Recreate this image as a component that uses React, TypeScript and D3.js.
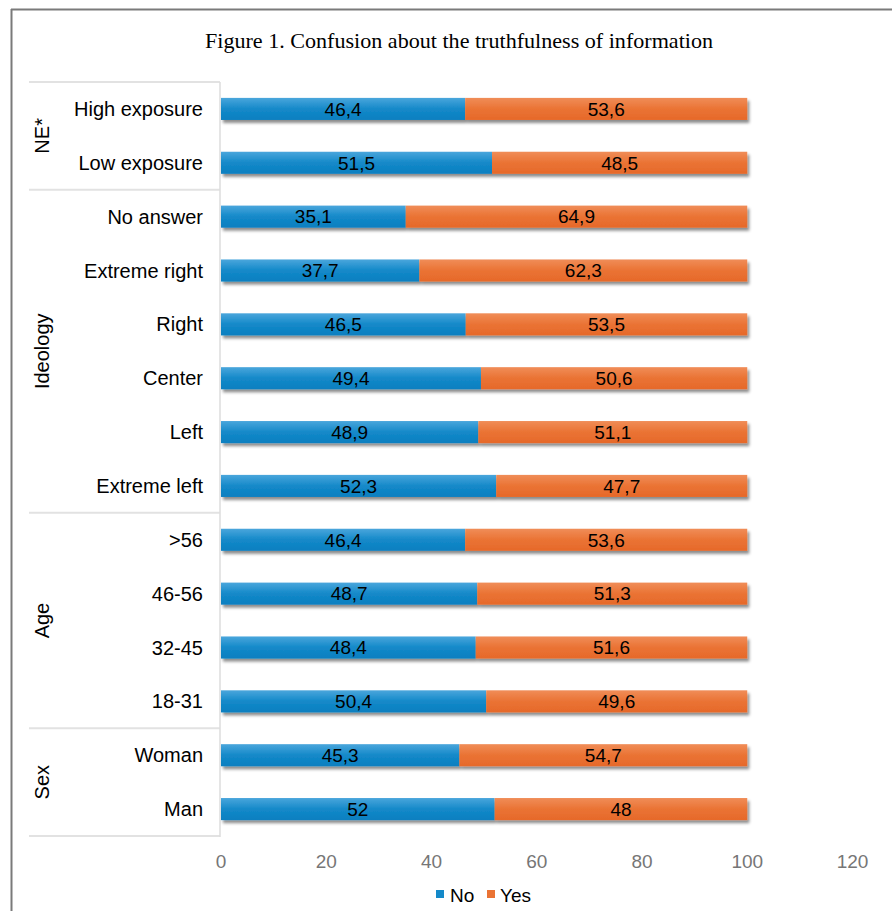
import React from "react";
import * as d3 from "d3";

const categories = [
  "High exposure", "Low exposure",
  "No answer", "Extreme right", "Right", "Center", "Left", "Extreme left",
  ">56", "46-56", "32-45", "18-31",
  "Woman", "Man",
];
const noValues = [46.4, 51.5, 35.1, 37.7, 46.5, 49.4, 48.9, 52.3, 46.4, 48.7, 48.4, 50.4, 45.3, 52];
const yesValues = [53.6, 48.5, 64.9, 62.3, 53.5, 50.6, 51.1, 47.7, 53.6, 51.3, 51.6, 49.6, 54.7, 48];
const groups = [
  { name: "NE*", start: 0, end: 1 },
  { name: "Ideology", start: 2, end: 7 },
  { name: "Age", start: 8, end: 11 },
  { name: "Sex", start: 12, end: 13 },
];
const xTicks = [0, 20, 40, 60, 80, 100, 120];
const seriesNames = ["No", "Yes"];
const title = "Figure 1. Confusion about the truthfulness of information";

const W = 892;
const H = 911;
const fmt = (v: number) => String(v).replace(".", ",");

export default function App() {
  const x = d3.scaleLinear().domain([0, 120]).range([221, 852.5]);
  const y = d3.scaleBand<string>().domain(categories).range([82, 836]).paddingInner(0.59).paddingOuter(0.295);
  const step = y.step();
  const bandTop = (i: number) => y(categories[i])! - y.paddingOuter() * step;
  const sepYs = [82, ...groups.map((g) => bandTop(g.end) + step)];
  const font = "'Liberation Sans', Arial, sans-serif";

  return (
    <svg width={W} height={H} style={{ position: "absolute", left: 0, top: 0, background: "#fff" }}>
      <defs>
        <linearGradient id="gBlue" x1="0" y1="0" x2="0" y2="1">
          <stop offset="0" stopColor="#4aa6dc" />
          <stop offset="0.5" stopColor="#1489c9" />
          <stop offset="1" stopColor="#0a7fc0" />
        </linearGradient>
        <linearGradient id="gOrange" x1="0" y1="0" x2="0" y2="1">
          <stop offset="0" stopColor="#f08d58" />
          <stop offset="0.5" stopColor="#ea7334" />
          <stop offset="1" stopColor="#e6692a" />
        </linearGradient>
        <filter id="shadow" x="-5%" y="-30%" width="110%" height="180%">
          <feDropShadow dx="2" dy="3" stdDeviation="1.6" floodColor="#000" floodOpacity="0.45" />
        </filter>
      </defs>

      {/* frame */}
      <line x1={11} x2={892} y1={9.5} y2={9.5} stroke="#7a7a7a" strokeWidth={2} />
      <line x1={11.5} x2={11.5} y1={9} y2={911} stroke="#7a7a7a" strokeWidth={2} />

      {/* title */}
      <text x={459} y={48} textAnchor="middle" fontFamily="'Liberation Serif', 'DejaVu Serif', serif" fontSize={22}
        textLength={508} lengthAdjust="spacingAndGlyphs" fill="#000">{title}</text>

      {/* group separators */}
      {sepYs.map((sy, i) => (
        <line key={i} x1={29} x2={220} y1={sy} y2={sy} stroke="#e2e2e2" strokeWidth={2} />
      ))}
      <line x1={220} x2={220} y1={82} y2={837} stroke="#dcdcdc" strokeWidth={1.5} />

      {/* group labels */}
      {groups.map((g) => {
        const cy = (y(categories[g.start])! + y(categories[g.end])! + y.bandwidth()) / 2;
        return (
          <text key={g.name} transform={`translate(49,${cy}) rotate(-90)`} textAnchor="middle"
            fontFamily={font} fontSize={20} fill="#000">{g.name}</text>
        );
      })}

      {/* category labels */}
      {categories.map((c) => (
        <text key={c} x={203} y={y(c)! + y.bandwidth() / 2} dy="0.35em" textAnchor="end"
          fontFamily={font} fontSize={20} fill="#000">{c}</text>
      ))}

      {/* bars */}
      {categories.map((c, i) => {
        const by = y(c)!;
        const bh = y.bandwidth();
        const x0 = x(0), x1 = x(noValues[i]), x2 = x(noValues[i] + yesValues[i]);
        return (
          <g key={c}>
            <g filter="url(#shadow)">
              <rect x={x0} y={by} width={x1 - x0} height={bh} fill="url(#gBlue)" />
              <rect x={x1} y={by} width={x2 - x1} height={bh} fill="url(#gOrange)" />
            </g>
            <text x={(x0 + x1) / 2} y={by + bh / 2} dy="0.36em" textAnchor="middle" fontFamily={font} fontSize={19} fill="#000">{fmt(noValues[i])}</text>
            <text x={(x1 + x2) / 2} y={by + bh / 2} dy="0.36em" textAnchor="middle" fontFamily={font} fontSize={19} fill="#000">{fmt(yesValues[i])}</text>
          </g>
        );
      })}

      {/* x ticks */}
      {xTicks.map((t) => (
        <text key={t} x={x(t)} y={861} dy="0.35em" textAnchor="middle" fontFamily={font} fontSize={19} fill="#767676">{t}</text>
      ))}

      {/* legend */}
      <rect x={436} y={890} width={8} height={8} fill="#1489c9" />
      <text x={450} y={902} fontFamily={font} fontSize={19} fill="#000">{seriesNames[0]}</text>
      <rect x={487} y={890} width={8} height={8} fill="#ea7334" />
      <text x={500} y={902} fontFamily={font} fontSize={19} fill="#000">{seriesNames[1]}</text>
    </svg>
  );
}
